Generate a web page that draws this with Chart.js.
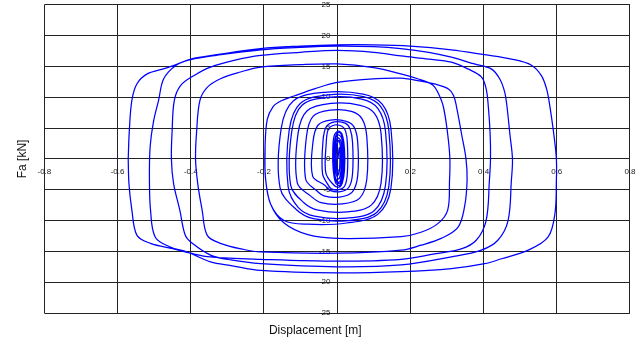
<!DOCTYPE html>
<html>
<head>
<meta charset="utf-8">
<script src="https://cdn.jsdelivr.net/npm/chart.js@4.4.1/dist/chart.umd.min.js"></script>
<style>
  html, body { margin: 0; padding: 0; background: #fff; }
  #wrap { width: 636px; height: 341px; position: relative; }
</style>
</head>
<body>
<div id="wrap"><canvas id="loopChart"></canvas></div>
<script>
// ── axes ──
const xTicks = [-0.8, -0.6, -0.4, -0.2, 0, 0.2, 0.4, 0.6, 0.8];
const yTicks = [-25, -20, -15, -10, -5, 0, 5, 10, 15, 20, 25];
const xTitle = 'Displacement [m]';
const yTitle = 'Fa [kN]';

// ── hysteresis path, [displacement m, force kN] ──
// dense little loops around the origin
const centreLoops = [
  [0.002, 0], [0.006, 1.8], [0.007, -1.2], [0.003, -2.6], [-0.002, -1.0], [-0.001, 2.2], [0.005, 3.0],
  [0.010, 1.0], [0.010, -2.0], [0.004, -3.3], [-0.004, -2.0], [-0.005, 1.5], [0.001, 3.4],
  [0.010, 2.9], [0.013, 0.5], [0.012, -2.6], [0.005, -3.8], [-0.005, -3.0], [-0.008, 0], [-0.006, 2.8], [0.002, 3.9],
  [0.012, 3.4], [0.016, 1.0], [0.015, -2.4], [0.008, -4.0], [-0.003, -3.6], [-0.009, -1.4], [-0.009, 1.8], [-0.003, 3.9],
  [0.007, 4.3], [0.016, 3.0], [0.019, 0], [0.017, -3.0], [0.008, -4.3], [-0.004, -3.9], [-0.011, -1.6], [-0.012, 1.4], [-0.008, 3.8],
  [0.003, 4.5], [0.014, 3.9], [0.020, 1.5], [0.020, -1.8], [0.014, -3.9], [0.004, -4.6], [-0.010, -4.2]
];

// small loops, growing
const smallLoops = [
  [-0.031, -2.25], [-0.030, 2.5], [-0.024, 4.8], [-0.007, 5.5], [0.013, 5.3], [0.023, 4.5], [0.028, 2.5],
  [0.028, -2.25], [0.021, -4.35], [0.004, -5.0], [-0.016, -4.85], [-0.026, -4.1],
  [-0.040, -2.4], [-0.039, 2.7], [-0.030, 5.2], [-0.007, 6.0], [0.022, 5.8], [0.035, 4.9], [0.042, 2.7],
  [0.042, -2.4], [0.032, -4.6], [0.009, -5.3], [-0.020, -5.1], [-0.033, -4.3],
  [-0.067, -2.8], [-0.066, 2.8], [-0.052, 5.5], [-0.018, 6.3], [0.025, 6.1], [0.046, 5.2], [0.056, 2.8],
  [0.056, -2.8], [0.041, -5.4], [0.007, -6.2], [-0.036, -6.0], [-0.057, -5.1],
  [-0.086, -3.3], [-0.084, 3.6], [-0.066, 6.9], [-0.019, 7.9], [0.039, 7.7], [0.068, 6.5], [0.081, 3.6],
  [0.081, -3.3], [0.061, -6.4], [0.014, -7.3], [-0.044, -7.1], [-0.073, -6.0]
];

// medium loops around +-10 kN
const mediumLoops = [
  [-0.109, -3.9], [-0.107, 4.1], [-0.082, 7.8], [-0.017, 9.0], [0.063, 8.7], [0.102, 7.4], [0.120, 4.1],
  [0.120, -3.9], [0.093, -7.5], [0.028, -8.6], [-0.052, -8.3], [-0.091, -7.1],
  [-0.127, -4.3], [-0.124, 4.5], [-0.096, 8.7], [-0.023, 10.0], [0.067, 9.7], [0.111, 8.2], [0.132, 4.5],
  [0.132, -4.3], [0.101, -8.4], [0.028, -9.6], [-0.062, -9.3], [-0.106, -7.9],
  [-0.134, -4.5], [-0.131, 4.7], [-0.101, 9.0], [-0.024, 10.4], [0.072, 10.1], [0.119, 8.5], [0.141, 4.7],
  [0.141, -4.5], [0.108, -8.7], [0.031, -10.0], [-0.065, -9.7], [-0.112, -8.2],
  [-0.156, -4.7], [-0.153, 4.9], [-0.120, 9.4], [-0.035, 10.8], [0.071, 10.5], [0.123, 8.9], [0.147, 4.9],
  [0.147, -4.7], [0.111, -9.0], [0.026, -10.4], [-0.080, -10.6], [-0.145, -10.0]
];

// two larger cycles out to 0.31 / 0.36 m
const innerLargeLoops = [
  [-0.182, -7.3], [-0.196, -3.0], [-0.197, 2.0], [-0.191, 6.4], [-0.175, 8.5], [-0.154, 9.4], [-0.118, 10.2],
  [-0.06, 11.4], [0, 12.4], [0.08, 12.9], [0.174, 13.1], [0.229, 12.6], [0.275, 12.0], [0.305, 11.3], [0.318, 10.3],
  [0.326, 8.5], [0.340, 4.0], [0.352, 0], [0.355, -3.5], [0.348, -7.8], [0.330, -11.1], [0.284, -12.9],
  [0.229, -14.0], [0.175, -14.8], [0, -15.3], [-0.209, -15.1], [-0.255, -14.7], [-0.319, -13.7], [-0.355, -12.4],
  [-0.369, -8.3], [-0.381, -4.0], [-0.387, 0], [-0.384, 4.5], [-0.375, 9.5], [-0.355, 11.6], [-0.319, 13.0],
  [-0.264, 14.1], [-0.209, 14.9], [-0.10, 15.3], [0, 15.4], [0.10, 14.8], [0.174, 13.8], [0.220, 13.0],
  [0.261, 12.0], [0.275, 10.8], [0.290, 8.5], [0.302, 4.0], [0.308, 0], [0.307, -3.5], [0.302, -8.3],
  [0.275, -10.5], [0.229, -11.9], [0.175, -12.6], [0, -12.9], [-0.08, -12.3], [-0.145, -10.4], [-0.182, -7.3],
  [-0.196, -3.0], [-0.197, 2.0]
];

// outer cycles out to 0.6 m
const outerLargeLoops = [
  [-0.571, 0], [-0.568, 4.5], [-0.561, 9.5], [-0.547, 12.2], [-0.519, 13.8], [-0.47, 14.7], [-0.44, 15.3],
  [-0.40, 16.2], [-0.33, 16.9], [-0.209, 17.9], [-0.10, 18.3], [0, 18.5], [0.10, 18.5], [0.20, 18.3],
  [0.312, 17.7], [0.403, 16.9], [0.476, 16.2], [0.531, 15.2], [0.558, 13.5], [0.572, 11.4], [0.580, 9.0],
  [0.592, 4.0], [0.599, 0], [0.599, -3.5], [0.595, -8.9], [0.576, -12.7], [0.522, -14.8], [0.449, -16.2],
  [0.403, -17.0], [0.312, -17.8], [0.175, -18.3], [0, -18.5], [-0.209, -18.1], [-0.29, -17.3], [-0.346, -16.7],
  [-0.410, -15.1], [-0.456, -14.3], [-0.497, -12.7], [-0.510, -8.3], [-0.513, -3.0], [-0.511, 2.0],
  [-0.502, 6.0], [-0.488, 9.5], [-0.474, 13.0], [-0.44, 15.2], [-0.40, 16.1], [-0.33, 16.8], [-0.209, 17.7],
  [-0.10, 18.1], [0, 18.3], [0.10, 18.2], [0.174, 17.9], [0.25, 17.3], [0.312, 16.5], [0.375, 15.4],
  [0.421, 14.6], [0.444, 13.0], [0.458, 10.8], [0.464, 8.5], [0.472, 4.0], [0.479, 0], [0.476, -3.5],
  [0.467, -10.0], [0.439, -13.2], [0.394, -14.8], [0.312, -15.9], [0.175, -17.2], [0, -17.5], [-0.209, -17.0],
  [-0.29, -16.4], [-0.346, -15.6], [-0.396, -13.7], [-0.415, -12.4], [-0.430, -8.3], [-0.447, -4.0],
  [-0.453, 0], [-0.451, 4.5], [-0.445, 9.5], [-0.428, 11.9], [-0.392, 13.5], [-0.346, 14.9], [-0.282, 16.0],
  [-0.209, 16.8], [-0.10, 17.3], [0, 17.6], [0.10, 17.3], [0.174, 16.7], [0.25, 16.2], [0.312, 15.7],
  [0.357, 14.6], [0.394, 13.3], [0.407, 11.4], [0.413, 8.5], [0.418, 4.0], [0.419, 0], [0.416, -3.5],
  [0.407, -10.0], [0.380, -13.2], [0.339, -14.6], [0.266, -15.4], [0.175, -16.3], [0, -16.6], [-0.209, -16.3],
  [-0.346, -15.9], [-0.401, -15.3], [-0.447, -14.6], [-0.510, -13.7], [-0.547, -12.4], [-0.561, -8.3],
  [-0.569, -4.0], [-0.571, 0]
];

const toPoints = (pairs) => pairs.map(([x, y]) => ({ x, y }));

const LINE = '#0000ff';
const GRID = '#222222';
const tickFont = { family: 'Liberation Sans, Arial, sans-serif', size: 8 };
const titleFont = { family: 'Liberation Sans, Arial, sans-serif', size: 12, weight: 'normal' };

const lineStyle = {
  showLine: true, borderColor: LINE, borderWidth: 1.25,
  pointRadius: 0, pointHoverRadius: 0, tension: 0.35, fill: false
};

new Chart(document.getElementById('loopChart'), {
  type: 'scatter',
  data: {
    datasets: [
      { ...lineStyle, data: toPoints([...centreLoops, ...smallLoops, ...mediumLoops, ...innerLargeLoops]) },
      { ...lineStyle, data: toPoints(outerLargeLoops) }
    ]
  },
  options: {
    responsive: true, maintainAspectRatio: false, animation: false,
    layout: { padding: { top: 0, right: 5.5, bottom: 0, left: 0 } },
    plugins: {
      legend: { display: false },
      tooltip: { enabled: false },
      title: {
        display: true, text: xTitle, position: 'bottom', color: '#111',
        font: titleFont, padding: { top: 10, bottom: 3.6 }
      },
      subtitle: {
        display: true, text: yTitle, position: 'left', fullSize: false, color: '#111',
        font: titleFont, padding: { top: 15, bottom: 15 }
      }
    },
    scales: {
      x: {
        type: 'linear', min: -0.8, max: 0.8, position: { y: 0 },
        afterBuildTicks: (scale) => { scale.ticks = xTicks.map(v => ({ value: v })); },
        ticks: { color: '#222', font: tickFont, padding: 0.5, maxRotation: 0, autoSkip: false,
          callback: (v) => String(v) },
        grid: { color: GRID, lineWidth: 1, tickLength: 8 },
        border: { display: true, color: GRID, width: 1 }
      },
      y: {
        type: 'linear', min: -25, max: 25, position: { x: 0 },
        afterBuildTicks: (scale) => { scale.ticks = yTicks.map(v => ({ value: v })); },
        ticks: { color: '#222', font: tickFont, padding: 0, autoSkip: false,
          callback: (v) => v + '   ' },
        grid: { color: GRID, lineWidth: 1, tickLength: 4 },
        border: { display: true, color: GRID, width: 1 }
      }
    }
  }
});
</script>
</body>
</html>
